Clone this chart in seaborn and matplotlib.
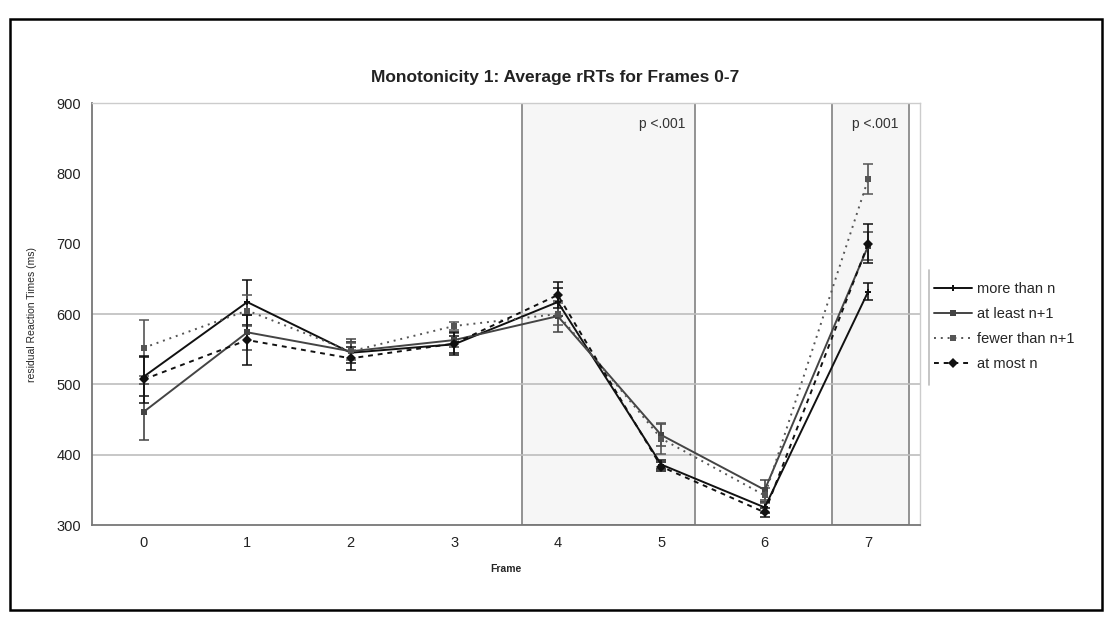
import matplotlib
matplotlib.use("Agg")
import matplotlib.pyplot as plt
import matplotlib.patches as mpatches
import seaborn as sns
import pandas as pd
import numpy as np

frames = [0, 1, 2, 3, 4, 5, 6, 7]
series_names = ["more than n", "at least n+1", "fewer than n+1", "at most n"]
more_than_n = [511, 617, 545, 557, 617, 386, 325, 632]
at_least_n1 = [461, 574, 547, 563, 597, 428, 350, 697]
fewer_than_n1 = [552, 605, 547, 583, 600, 423, 342, 792]
at_most_n = [507, 563, 537, 558, 627, 383, 318, 700]
err_more = [28, 32, 15, 12, 20, 7, 8, 12]
err_least = [40, 25, 17, 10, 22, 15, 14, 20]
err_fewer = [40, 22, 12, 6, 15, 22, 10, 21]
err_most = [33, 35, 16, 16, 19, 6, 6, 28]
y_ticks = [300, 400, 500, 600, 700, 800, 900]
shade_spans = [(3.65, 5.33), (6.65, 7.39)]
shade_label = "p <.001"

values = [more_than_n, at_least_n1, fewer_than_n1, at_most_n]
errors = [err_more, err_least, err_fewer, err_most]
df = pd.DataFrame({
    "Frame": frames * 4,
    "rRT": sum(values, []),
    "err": sum(errors, []),
    "series": [s for s in series_names for _ in frames],
})

sns.set_theme(style="white")
plt.rcParams["font.family"] = ["Liberation Sans", "DejaVu Sans"]

fig = plt.figure(figsize=(11.1, 6.29), dpi=100)
ax = fig.add_axes([0.0829, 0.1653, 0.8288 - 0.0829, 0.8362 - 0.1653])

# outer border
fig.patches.append(mpatches.Rectangle((0.009, 0.03), 0.984, 0.94, transform=fig.transFigure,
                                      fill=False, edgecolor="black", linewidth=1.8))

ax.set_xlim(-0.5, 7.5)
ax.set_ylim(300, 900)

for (x0, x1) in shade_spans:
    ax.add_patch(mpatches.Rectangle((x0, 300), x1 - x0, 600, facecolor="#f6f6f6",
                                    edgecolor="#8a8a8a", linewidth=1.3, zorder=0.5))
    ax.text(x1 - 0.1, 880, shade_label, ha="right", va="top", fontsize=10, color="#333333")

for y in [400, 500, 600]:
    ax.axhline(y, color="#bdbdbd", linewidth=1.2, zorder=1)

colors = {"more than n": "#111111", "at least n+1": "#444444",
          "fewer than n+1": "#555555", "at most n": "#111111"}
dashes = {"more than n": "", "at least n+1": "", "fewer than n+1": (1, 2.5), "at most n": (2.5, 2.5)}
markers = {"more than n": "P", "at least n+1": "s", "fewer than n+1": "s", "at most n": "D"}

for name in series_names:
    sub = df[df["series"] == name]
    ax.errorbar(sub["Frame"], sub["rRT"], yerr=sub["err"], fmt="none",
                ecolor=colors[name], elinewidth=1.2, capsize=3.5, capthick=1.1, zorder=3)

sns.lineplot(data=df, x="Frame", y="rRT", hue="series", style="series",
             palette=colors, dashes=dashes, markers=markers, hue_order=series_names,
             style_order=series_names, linewidth=1.4, markersize=5,
             markeredgewidth=0, ax=ax, legend=True, errorbar=None, zorder=4)

ax.set_xticks(frames)
ax.set_xticklabels([str(f) for f in frames], fontsize=10.5, color="#222222")
ax.set_yticks(y_ticks)
ax.set_yticklabels([str(v) for v in y_ticks], fontsize=10.5, color="#222222")
ax.tick_params(axis="both", length=0, pad=8)
ax.set_xlabel("Frame", fontsize=7.5, fontweight="bold", labelpad=10)
ax.set_ylabel("residual Reaction Times (ms)", fontsize=7.5, labelpad=14)

for side in ["left", "bottom"]:
    ax.spines[side].set_color("#777777")
    ax.spines[side].set_linewidth(1.3)
for side in ["top", "right"]:
    ax.spines[side].set_color("#cccccc")
    ax.spines[side].set_linewidth(1.0)

fig.text(0.5, 0.877, "Monotonicity 1: Average rRTs for Frames 0-7", ha="center", va="center",
         fontsize=12.5, fontweight="bold", color="#222222")

handles, labels = ax.get_legend_handles_labels()
leg = ax.legend(handles, labels, loc="center left", bbox_to_anchor=(1.005, 0.47),
                frameon=False, fontsize=10.5, handlelength=2.6, handletextpad=0.3,
                labelspacing=0.75, borderaxespad=0.3)
fig.lines.append(plt.Line2D([929 / 1110, 929 / 1110], [1 - 270 / 629, 1 - 385 / 629],
                            transform=fig.transFigure, color="#bbbbbb", linewidth=1.2))

fig.savefig("out.png", dpi=100, facecolor="white")
